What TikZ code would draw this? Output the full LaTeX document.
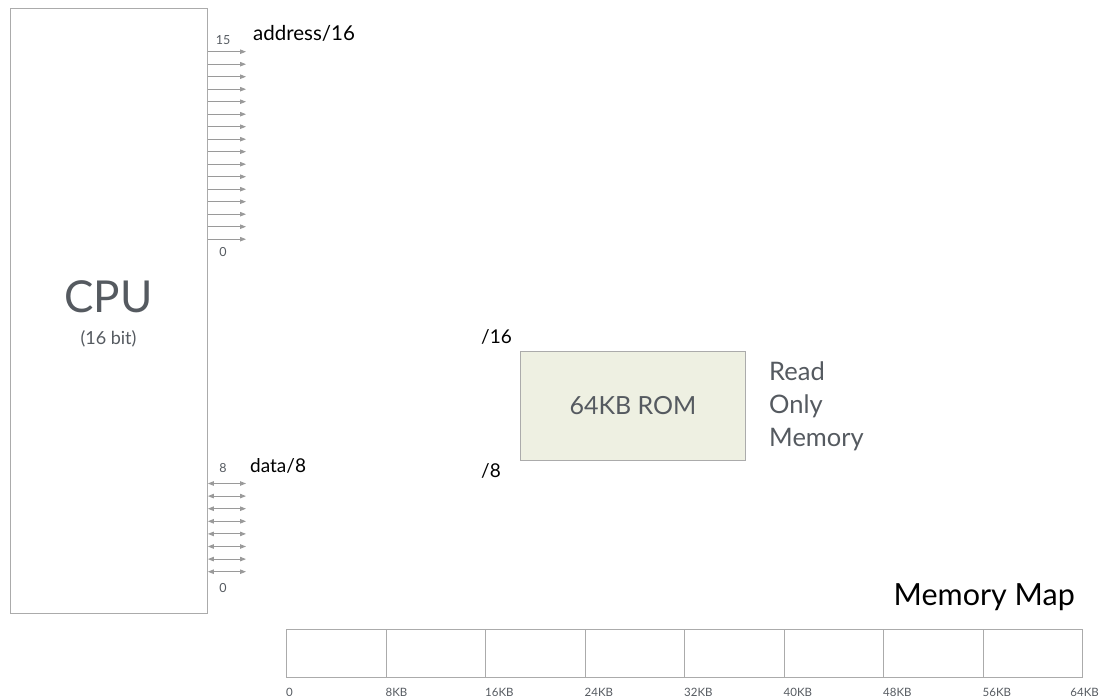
\documentclass[tikz,border=0pt]{standalone}
\usepackage{fontspec}
\setmainfont{Lato}
\usetikzlibrary{arrows.meta}
\definecolor{boxgray}{HTML}{ABABAB}
\definecolor{txtgray}{HTML}{555A60}
\definecolor{arrgray}{HTML}{9A9A9A}
\definecolor{romfill}{HTML}{EEF0E2}
\tikzset{
  unitbox/.style={draw=boxgray, line width=0.9pt, inner sep=0pt},
  busline/.style={draw=arrgray, line width=0.9pt, -{Triangle[length=6pt,width=4.5pt]}},
  biline/.style={draw=arrgray, line width=0.9pt, {Triangle[length=6pt,width=4.5pt]}-{Triangle[length=6pt,width=4.5pt]}},
  bitlabel/.style={text=txtgray, font=\fontsize{12.5}{14}\selectfont, inner sep=0pt},
  buslabel/.style={text=black, font=\fontsize{19}{22}\selectfont, inner sep=0pt, anchor=base west},
  maplabel/.style={text=txtgray, font=\fontsize{11.5}{13}\selectfont, inner sep=0pt, anchor=base west},
}
\begin{document}
\begin{tikzpicture}[x=1pt,y=-1pt]
\useasboundingbox (0,0) rectangle (1103,700);
% CPU
\node[unitbox, minimum width=197pt, minimum height=605pt, anchor=north west] (cpu) at (10,8) {};
\node[text=txtgray, font=\fontsize{44}{48}\selectfont, anchor=base, inner sep=0pt] (cpulabel) at (108.5,313) {CPU};
\node[text=txtgray, font=\fontsize{18}{20}\selectfont, anchor=base, inner sep=0pt] (cpubits) at (108.5,345) {(16 bit)};
% address bus
\foreach \i in {0,...,15}{
  \coordinate (a\i) at (246,{51.7+12.5*\i});
  \draw[busline] (cpu.east |- a\i) -- (a\i);
}
\node[bitlabel, anchor=base] (a15lab) at (223,45) {15};
\node[bitlabel, anchor=base] (a0lab) at (223,257) {0};
\node[buslabel, font=\fontsize{20.5}{22}\selectfont] (addrlab) at (253,41) {address/16};
% data bus
\foreach \i in {0,...,7}{
  \coordinate (d\i) at (246,{483.5+12.6*\i});
  \draw[biline] (cpu.east |- d\i) -- (d\i);
}
\node[bitlabel, anchor=base] (d8lab) at (223,472) {8};
\node[bitlabel, anchor=base] (d0lab) at (223,592) {0};
\node[buslabel] (datalab) at (250,472) {data/8};
% ROM
\node[unitbox, fill=romfill, minimum width=225pt, minimum height=109pt, anchor=north west] (rom) at (520,351) {};
\node[text=txtgray, font=\fontsize{25}{28}\selectfont, inner sep=0pt] (romlab) at (rom.center) {64KB ROM};
\node[buslabel] (r16) at (481,344) {/16};
\node[buslabel] (r8) at (481,477) {/8};
\node[text=txtgray, font=\fontsize{25.5}{33}\selectfont, align=left, anchor=north west, inner sep=0pt] (romdesc) at (769,362) {Read\\Only\\Memory};
% memory map
\node[text=black, font=\fontsize{30.5}{34}\selectfont, anchor=base east, inner sep=0pt] (maptitle) at (1075,605) {Memory Map};
\foreach \i in {0,...,7}{
  \node[unitbox, minimum width=99.5pt, minimum height=48pt, anchor=north west] (m\i) at ({286+99.5*\i},629) {};
}
\node[maplabel] (l0) at (286,696) {0};
\foreach \i/\t in {1/8KB,2/16KB,3/24KB,4/32KB,5/40KB,6/48KB,7/56KB}{
  \node[maplabel] (l\i) at (m\i.south west |- 0,696) {\t};
}
\node[maplabel, anchor=base east] (l8) at (1099,696) {64KB};
\end{tikzpicture}
\end{document}
